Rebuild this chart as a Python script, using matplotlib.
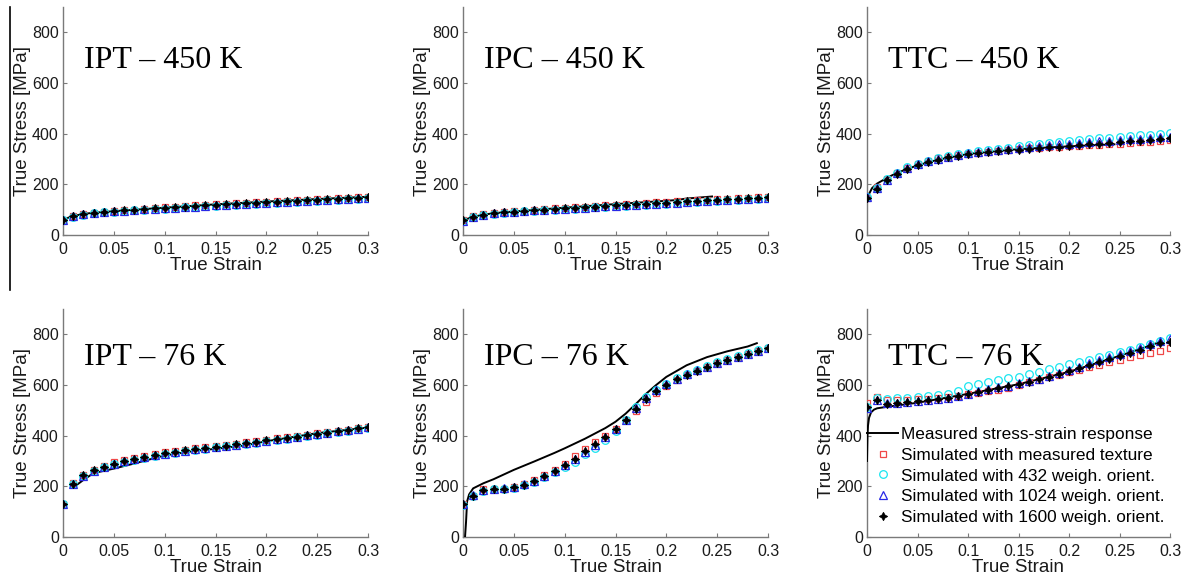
import matplotlib
matplotlib.use("Agg")
import matplotlib.pyplot as plt
from matplotlib.lines import Line2D

# strain levels of the simulations
strain = [0, 0.01, 0.02, 0.03, 0.04, 0.05, 0.06, 0.07, 0.08, 0.09, 0.10,
          0.11, 0.12, 0.13, 0.14, 0.15, 0.16, 0.17, 0.18, 0.19, 0.20,
          0.21, 0.22, 0.23, 0.24, 0.25, 0.26, 0.27, 0.28, 0.29, 0.30]

xtick_vals = [0, 0.05, 0.1, 0.15, 0.2, 0.25, 0.3]
xtick_labels = ["0", "0.05", "0.1", "0.15", "0.2", "0.25", "0.3"]
ytick_vals = [0, 200, 400, 600, 800]
ytick_labels = ["0", "200", "400", "600", "800"]

panel_titles = ["IPT \u2013 450 K", "IPC \u2013 450 K", "TTC \u2013 450 K",
                "IPT \u2013 76 K", "IPC \u2013 76 K", "TTC \u2013 76 K"]

legend_labels = ["Measured stress-strain response",
                 "Simulated with measured texture",
                 "Simulated with 432 weigh. orient.",
                 "Simulated with 1024 weigh. orient.",
                 "Simulated with 1600 weigh. orient."]

# IPT 450 K
ipt450_sq = [60, 76, 83, 88, 92, 95, 98, 100, 103, 106, 109, 112, 114, 117, 119, 122, 124, 126, 128, 130, 132, 134, 136, 138, 140, 142, 144, 145, 147, 149, 151]
ipt450_ci = [58, 73, 80, 85, 89, 92, 95, 97, 100, 102, 104, 107, 109, 111, 114, 116, 118, 120, 122, 124, 126, 128, 130, 132, 134, 136, 138, 140, 142, 144, 146]
ipt450_tr = [58, 74, 81, 86, 90, 93, 96, 98, 101, 103, 106, 108, 110, 112, 115, 117, 119, 121, 123, 125, 127, 129, 131, 133, 135, 137, 139, 141, 143, 145, 147]
ipt450_st = [60, 75, 82, 87, 91, 94, 97, 99, 102, 105, 107, 110, 112, 114, 117, 119, 121, 123, 125, 127, 129, 131, 133, 135, 137, 139, 141, 143, 145, 147, 149]
ipt450_meas_x = [0, 0.005, 0.01, 0.02, 0.03, 0.05, 0.1, 0.15, 0.2, 0.25, 0.3]
ipt450_meas_y = [57, 68, 75, 83, 88, 94, 108, 121, 132, 142, 151]

# IPC 450 K
ipc450_sq = [58, 74, 82, 87, 91, 93, 96, 99, 102, 105, 107, 110, 112, 114, 117, 120, 122, 124, 127, 129, 131, 134, 136, 138, 140, 142, 144, 146, 148, 149, 151]
ipc450_ci = [56, 70, 78, 84, 88, 90, 93, 95, 98, 100, 102, 104, 107, 109, 111, 113, 115, 118, 120, 122, 124, 127, 129, 131, 133, 135, 137, 139, 141, 143, 145]
ipc450_tr = [57, 71, 79, 85, 89, 91, 94, 97, 99, 101, 104, 106, 108, 110, 113, 115, 117, 119, 122, 124, 126, 128, 130, 133, 135, 137, 139, 141, 143, 145, 147]
ipc450_st = [58, 72, 80, 86, 90, 92, 95, 98, 100, 103, 105, 108, 110, 112, 115, 117, 119, 122, 124, 126, 128, 131, 133, 135, 137, 139, 141, 143, 145, 147, 149]
ipc450_meas_x = [0, 0.003, 0.01, 0.02, 0.03, 0.05, 0.1, 0.15, 0.2, 0.21, 0.22, 0.23, 0.245]
ipc450_meas_y = [50, 62, 72, 80, 86, 93, 108, 122, 135, 138, 144, 147, 152]

# TTC 450 K
ttc450_sq = [148, 188, 220, 245, 265, 282, 294, 303, 309, 315, 320, 325, 329, 333, 336, 339, 342, 344, 347, 349, 351, 353, 355, 357, 359, 361, 363, 366, 368, 371, 374]
ttc450_ci = [150, 185, 220, 246, 267, 282, 294, 304, 312, 318, 324, 330, 335, 340, 345, 350, 354, 358, 362, 366, 370, 374, 378, 381, 384, 387, 390, 393, 396, 399, 403]
ttc450_tr = [150, 185, 218, 244, 264, 280, 292, 301, 309, 316, 322, 328, 333, 337, 341, 345, 349, 352, 355, 358, 361, 364, 367, 370, 372, 375, 378, 380, 383, 385, 388]
ttc450_st = [148, 182, 216, 242, 261, 277, 289, 298, 306, 312, 318, 322, 326, 330, 334, 337, 340, 343, 346, 349, 352, 355, 358, 361, 364, 367, 370, 373, 376, 379, 384]
ttc450_meas_x = [0, 0.002, 0.005, 0.01, 0.02, 0.03, 0.05, 0.07, 0.1, 0.15, 0.2, 0.245]
ttc450_meas_y = [140, 162, 185, 203, 226, 246, 275, 297, 320, 339, 350, 358]

# IPT 76 K
ipt76_sq = [132, 212, 245, 265, 282, 295, 305, 312, 320, 327, 334, 340, 345, 350, 355, 359, 364, 369, 374, 379, 384, 389, 394, 399, 404, 409, 414, 419, 424, 429, 435]
ipt76_ci = [130, 208, 240, 260, 275, 287, 297, 304, 313, 320, 327, 333, 339, 344, 349, 354, 358, 363, 368, 373, 378, 383, 388, 393, 399, 404, 409, 415, 420, 426, 432]
ipt76_tr = [131, 210, 242, 262, 277, 289, 299, 306, 315, 322, 329, 335, 341, 346, 351, 356, 360, 365, 370, 375, 380, 385, 390, 395, 401, 406, 411, 417, 422, 428, 434]
ipt76_st = [131, 210, 243, 263, 278, 290, 300, 307, 316, 323, 330, 336, 342, 347, 352, 356, 361, 366, 371, 376, 381, 386, 391, 396, 402, 407, 412, 418, 423, 429, 434]
ipt76_meas_x = [0.01, 0.02, 0.03, 0.05, 0.07, 0.1, 0.13, 0.15, 0.18, 0.2, 0.25, 0.3]
ipt76_meas_y = [195, 225, 252, 270, 290, 322, 340, 348, 362, 378, 410, 432]

# IPC 76 K
ipc76_sq = [130, 163, 188, 190, 191, 197, 208, 225, 246, 266, 290, 318, 348, 374, 400, 428, 460, 497, 533, 567, 595, 618, 638, 656, 672, 686, 699, 711, 723, 734, 746]
ipc76_ci = [128, 160, 183, 188, 189, 194, 204, 219, 236, 255, 275, 298, 328, 352, 383, 420, 460, 515, 552, 582, 605, 627, 645, 660, 675, 689, 702, 714, 726, 737, 748]
ipc76_tr = [132, 164, 187, 191, 192, 197, 208, 223, 241, 261, 283, 306, 336, 364, 393, 426, 460, 508, 550, 580, 604, 625, 642, 658, 672, 686, 699, 711, 723, 734, 746]
ipc76_st = [130, 163, 186, 190, 191, 196, 207, 222, 241, 261, 283, 307, 338, 366, 396, 428, 460, 505, 545, 575, 600, 622, 640, 656, 671, 685, 698, 710, 722, 733, 745]
ipc76_meas_x = [0.002, 0.003, 0.004, 0.006, 0.01, 0.02, 0.03, 0.05, 0.07, 0.09, 0.1, 0.12, 0.14, 0.15, 0.16, 0.17, 0.18, 0.19, 0.2, 0.22, 0.24, 0.26, 0.28, 0.289]
ipc76_meas_y = [0, 60, 140, 168, 192, 212, 228, 265, 298, 332, 350, 388, 430, 455, 487, 525, 565, 600, 632, 678, 710, 733, 752, 765]

# TTC 76 K
ttc76_sq = [527, 552, 540, 540, 541, 543, 546, 549, 553, 558, 563, 568, 575, 582, 590, 600, 610, 620, 630, 640, 650, 660, 670, 680, 690, 700, 710, 718, 727, 736, 745]
ttc76_ci = [515, 550, 545, 548, 550, 553, 556, 560, 566, 576, 595, 605, 613, 620, 626, 633, 643, 652, 662, 672, 682, 691, 700, 710, 720, 730, 740, 750, 760, 772, 785]
ttc76_tr = [510, 540, 527, 530, 533, 537, 541, 545, 550, 557, 566, 575, 583, 591, 598, 606, 615, 625, 637, 648, 660, 671, 685, 697, 710, 722, 735, 748, 760, 775, 783]
ttc76_st = [515, 540, 525, 528, 531, 535, 539, 543, 548, 555, 563, 572, 580, 588, 595, 603, 612, 622, 633, 645, 656, 667, 680, 692, 704, 716, 728, 740, 752, 764, 770]
ttc76_meas_x = [0, 0.0005, 0.001, 0.002, 0.004, 0.007, 0.01, 0.02, 0.05, 0.1, 0.15, 0.2, 0.25, 0.28, 0.29]
ttc76_meas_y = [300, 400, 440, 470, 492, 503, 508, 514, 530, 565, 603, 652, 715, 755, 770]

panels = [
    (ipt450_meas_x, ipt450_meas_y, ipt450_sq, ipt450_ci, ipt450_tr, ipt450_st),
    (ipc450_meas_x, ipc450_meas_y, ipc450_sq, ipc450_ci, ipc450_tr, ipc450_st),
    (ttc450_meas_x, ttc450_meas_y, ttc450_sq, ttc450_ci, ttc450_tr, ttc450_st),
    (ipt76_meas_x, ipt76_meas_y, ipt76_sq, ipt76_ci, ipt76_tr, ipt76_st),
    (ipc76_meas_x, ipc76_meas_y, ipc76_sq, ipc76_ci, ipc76_tr, ipc76_st),
    (ttc76_meas_x, ttc76_meas_y, ttc76_sq, ttc76_ci, ttc76_tr, ttc76_st),
]

W, H = 1193, 579
fig = plt.figure(figsize=(W / 100, H / 100), dpi=100)
plt.rcParams['font.family'] = ['Liberation Sans', 'DejaVu Sans']

# axes rectangles in pixels: left, right, top, bottom
lefts = [63, 463, 867]
rights = [368, 768, 1170]
rows = [(7, 235), (309, 537)]

spine_col = '#7a7a7a'
red = '#f04848'
cyan = '#19e6f0'
blue = '#2828e6'

# stray rule on the left edge
fig.add_artist(Line2D([10 / W, 10 / W], [1 - 7 / H, 1 - 290 / H], color='black', lw=1.2))

for i, (mx, my, sq, ci, tr, st) in enumerate(panels):
    r, c = divmod(i, 3)
    top, bot = rows[r]
    ax = fig.add_axes([lefts[c] / W, 1 - bot / H, (rights[c] - lefts[c]) / W, (bot - top) / H])

    ax.plot(mx, my, color='black', lw=1.4, label=legend_labels[0], zorder=3)
    ax.plot(strain, sq, ls='none', marker='s', ms=5, mfc='none', mec=red, mew=0.9,
            label=legend_labels[1], zorder=4)
    ax.plot(strain, ci, ls='none', marker='o', ms=5.5, mfc='none', mec=cyan, mew=0.9,
            label=legend_labels[2], zorder=4)
    ax.plot(strain, tr, ls='none', marker='^', ms=5.5, mfc='none', mec=blue, mew=0.9,
            label=legend_labels[3], zorder=4)
    ax.plot(strain, st, ls='none', marker=(4, 1, 0), ms=6, color='black', mew=0.6,
            label=legend_labels[4], zorder=5)

    ax.set_xlim(0, 0.3)
    ax.set_ylim(0, 900)
    ax.set_xticks(xtick_vals)
    ax.set_xticklabels(xtick_labels)
    ax.set_yticks(ytick_vals)
    ax.set_yticklabels(ytick_labels)
    ax.tick_params(direction='in', length=3, width=0.8, color=spine_col,
                   labelsize=11.5, labelcolor='#1a1a1a')
    ax.tick_params(axis='x', pad=5)
    ax.tick_params(axis='y', pad=3)
    ax.spines['top'].set_visible(False)
    ax.spines['right'].set_visible(False)
    for s in ('left', 'bottom'):
        ax.spines[s].set_color(spine_col)
        ax.spines[s].set_linewidth(1.0)
    ax.set_xlabel('True Strain', fontsize=13.5, labelpad=0, color='#1a1a1a')
    ax.set_ylabel('True Stress [MPa]', fontsize=13.5, labelpad=1, color='#1a1a1a')

    title_y = 660 if r == 0 else 680
    ax.text(0.021, title_y, panel_titles[i], fontsize=23, va='baseline', ha='left',
            family=['Liberation Serif', 'DejaVu Serif'])

    if i == 5:
        ax.legend(loc='upper left', bbox_to_anchor=(0.0, 0.484), frameon=False,
                  fontsize=12.4, handlelength=1.8, handletextpad=0.15,
                  borderpad=0, borderaxespad=0, labelspacing=0.34, markerscale=1.0)

fig.savefig('out.png', dpi=100)
